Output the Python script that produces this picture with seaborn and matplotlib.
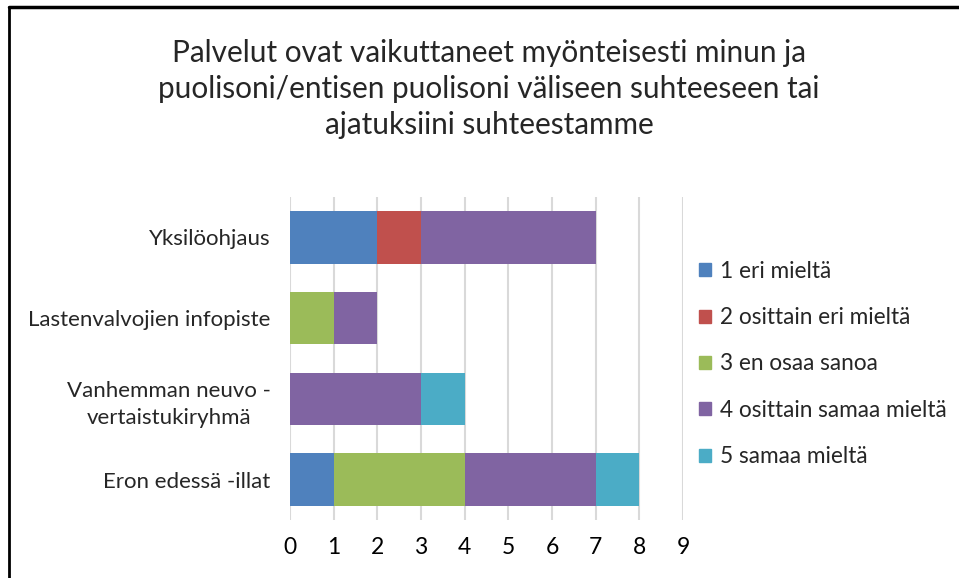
import matplotlib
matplotlib.use("Agg")
import matplotlib.pyplot as plt
import matplotlib.patches as mpatches
from matplotlib.lines import Line2D
import seaborn as sns
import pandas as pd
import numpy as np

# data
categories = ["Yksilöohjaus", "Lastenvalvojien infopiste",
              "Vanhemman neuvo -\nvertaistukiryhmä", "Eron edessä -illat"]
series_names = ["1 eri mieltä", "2 osittain eri mieltä", "3 en osaa sanoa",
                "4 osittain samaa mieltä", "5 samaa mieltä"]
s1 = [2, 0, 0, 1]
s2 = [1, 0, 0, 0]
s3 = [0, 1, 0, 3]
s4 = [4, 1, 3, 3]
s5 = [0, 0, 1, 1]
colors = ["#4F81BD", "#C0504D", "#9BBB59", "#8064A2", "#4BACC6"]
title = ("Palvelut ovat vaikuttaneet myönteisesti minun ja\n"
         "puolisoni/entisen puolisoni väliseen suhteeseen tai\n"
         "ajatuksiini suhteestamme")

sns.set_style("white")
plt.rcParams["font.family"] = ["Lato", "DejaVu Sans"]

df = pd.DataFrame({"Kategoria": categories})
for name, vals in zip(series_names, [s1, s2, s3, s4, s5]):
    df[name] = vals
cum = df[series_names].cumsum(axis=1)

fig = plt.figure(figsize=(9.59, 5.78), dpi=100)
ax = fig.add_axes([290 / 959, 1 - 520 / 578, 393 / 959, 323 / 578])

# stacked bars: draw cumulative totals from the last series backwards
for i in range(len(series_names) - 1, -1, -1):
    plot_df = pd.DataFrame({"Kategoria": categories, "val": cum[series_names[i]]})
    sns.barplot(data=plot_df, x="val", y="Kategoria", orient="h", color=colors[i],
                width=0.65, saturation=1, ax=ax, linewidth=0, zorder=3)

ax.set_xlim(0, 9)
ax.set_ylim(3.5, -0.5)
ax.set_xticks(range(10))
ax.grid(axis="x", color="#D9D9D9", linewidth=1.5, zorder=0)
ax.grid(axis="y", visible=False)
for sp in ax.spines.values():
    sp.set_visible(False)
ax.set_xlabel("")
ax.set_ylabel("")
ax.tick_params(axis="x", labelsize=16.5, length=0, pad=12, colors="#000000")
ax.tick_params(axis="y", labelsize=16, length=0, pad=14)
for lbl in ax.get_yticklabels():
    lbl.set_multialignment("center")
    lbl.set_linespacing(1.45)

fig.text(489 / 959, 1 - 89 / 578, title, ha="center", va="center", fontsize=21.4,
         linespacing=1.35)

handles = [mpatches.Patch(color=c, label=n) for c, n in zip(colors, series_names)]
fig.legend(handles=handles, loc="center left", bbox_to_anchor=(679 / 959, 1 - 364 / 578),
           frameon=False, fontsize=16.3, handlelength=0.5, handleheight=0.5,
           handletextpad=0.4, labelspacing=1.12)

# outer frame (left and top edges)
fig.add_artist(Line2D([9 / 959, 9 / 959], [0, 1 - 7 / 578], color="black", linewidth=2))
fig.add_artist(Line2D([9 / 959, 1], [1 - 7 / 578, 1 - 7 / 578], color="black", linewidth=2.5))

fig.savefig("out.png", dpi=100)
